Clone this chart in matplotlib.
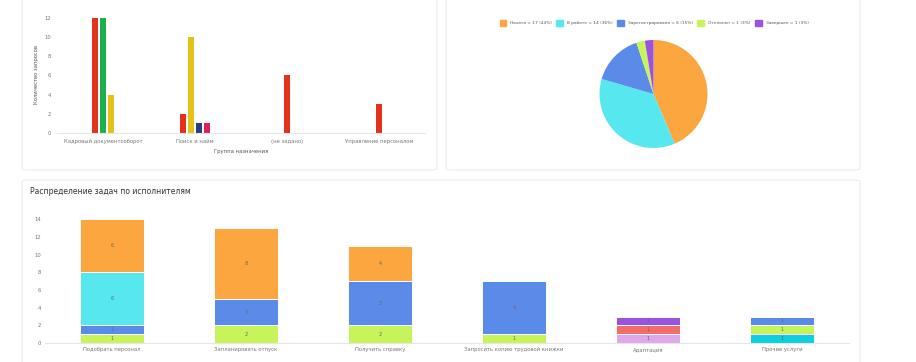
import numpy as np
import matplotlib.pyplot as plt
from matplotlib.patches import FancyBboxPatch

W, H = 916, 362  # pixel size of the picture

# top-left: requests by target group
groups = ['Кадровый документооборот', 'Поиск и найм', '(не задано)', 'Управление персоналом']
grp_series = {
    'red': [12, 2, 6, 3],
    'green': [12, 0, 0, 0],
    'yellow': [4, 10, 0, 0],
    'navy': [0, 1, 0, 0],
    'pink': [0, 1, 0, 0],
}
grp_colors = {'red': '#e2321c', 'green': '#1daf4d', 'yellow': '#e4c21a',
              'navy': '#2d3d7c', 'pink': '#e21f5d'}

# top-right: status pie
status_labels = ['Начата', 'В работе', 'Зарегистрирована', 'Отклонен', 'Завершен']
status_counts = [17, 14, 6, 1, 1]
status_colors = ['#fca63f', '#56e7ef', '#5b8be9', '#c7f45b', '#9b52df']

# bottom: tasks by executor (stacked)
tasks = ['Подобрать персонал', 'Запланировать отпуск', 'Получить справку',
         'Запросить копию трудовой книжки', 'Адаптация', 'Прочие услуги']
stack_teal = [0, 0, 0, 0, 0, 1]
stack_lime = [1, 2, 2, 1, 0, 1]
stack_blue = [1, 3, 5, 6, 0, 1]
stack_cyan = [6, 0, 0, 0, 0, 0]
stack_orange = [6, 8, 4, 0, 0, 0]
stack_lilac = [0, 0, 0, 0, 1, 0]
stack_salmon = [0, 0, 0, 0, 1, 0]
stack_purple = [0, 0, 0, 0, 1, 0]


def px(x0, y0, x1, y1):
    """pixel box (top-left origin) -> figure rect"""
    return [x0 / W, 1 - y1 / H, (x1 - x0) / W, (y1 - y0) / H]


fig = plt.figure(figsize=(W / 100, H / 100), dpi=100)
fig.patch.set_facecolor('white')

# cards (behind everything)
for (x0, y0, x1, y1) in [(22, -10, 437, 170), (446, -10, 860, 170), (22, 180, 860, 372)]:
    r = px(x0, y0, x1, y1)
    fig.patches.append(FancyBboxPatch((r[0], r[1]), r[2], r[3],
                                      boxstyle='round,pad=0,rounding_size=0.006',
                                      transform=fig.transFigure, facecolor='white',
                                      edgecolor='#ececec', linewidth=0.8, zorder=-5))

tick_col = '#777777'

# ---- grouped bars
ax1 = fig.add_axes(px(57, 15, 425, 133))
ax1.set_facecolor('none')
bw = 0.072
step = 0.087
for gi in range(len(groups)):
    items = [(k, v[gi]) for k, v in grp_series.items() if v[gi] > 0]
    n = len(items)
    for j, (k, val) in enumerate(items):
        xpos = gi + (j - (n - 1) / 2) * step
        ax1.bar(xpos, val, width=bw, color=grp_colors[k], linewidth=0)
ax1.set_xlim(-0.5, len(groups) - 0.5)
ax1.set_ylim(0, 12.3)
ax1.set_yticks(range(0, 13, 2))
ax1.set_xticks(range(len(groups)))
ax1.set_xticklabels(groups)
ax1.tick_params(length=0, labelsize=3.8, colors=tick_col, pad=4)
for s in ['top', 'right', 'left']:
    ax1.spines[s].set_visible(False)
ax1.spines['bottom'].set_color('#e6e6e6')
ax1.set_xlabel('Группа назначения', fontsize=3.8, color='#555555', labelpad=4)
ax1.set_ylabel('Количество запросов', fontsize=3.8, color='#555555', labelpad=4)

# ---- pie
ax2 = fig.add_axes(px(599, 40, 708, 148))
ax2.pie(status_counts, colors=status_colors, startangle=90, counterclock=False,
        wedgeprops=dict(linewidth=0))
ax2.set_xlim(-1, 1)
ax2.set_ylim(-1, 1)
ax2.set_aspect('equal')
total = sum(status_counts)
leg_labels = ['%s = %d (%d%%)' % (l, c, round(100 * c / total))
              for l, c in zip(status_labels, status_counts)]
handles = [plt.Rectangle((0, 0), 1, 1, color=c) for c in status_colors]
fig.legend(handles, leg_labels, loc='center', bbox_to_anchor=(654 / W, 1 - 23 / H),
           ncol=5, fontsize=3.1, frameon=False, handlelength=1.6, handleheight=1.6,
           columnspacing=1.0, handletextpad=0.9, labelcolor='#555555')

# ---- stacked bars
ax3 = fig.add_axes(px(45, 215, 849, 343))
ax3.set_facecolor('none')
x = np.arange(len(tasks))
bottom = np.zeros(len(tasks))
layers = [(stack_teal, '#0dcfdf'), (stack_lime, '#c7f45b'), (stack_blue, '#5b8be9'),
          (stack_cyan, '#56e7ef'), (stack_orange, '#fca63f'), (stack_lilac, '#dfa8ea'),
          (stack_salmon, '#f36c6c'), (stack_purple, '#9b52df')]
for vals, col in layers:
    vals = np.array(vals, dtype=float)
    ax3.bar(x, vals, width=0.48, bottom=bottom, color=col, edgecolor='white', linewidth=0.7)
    for i, v in enumerate(vals):
        if v > 0:
            ax3.text(x[i], bottom[i] + v / 2, '%d' % v, ha='center', va='center',
                     fontsize=3.5, color='#666666')
    bottom += vals
ax3.set_xlim(-0.5, len(tasks) - 0.5)
ax3.set_ylim(0, 14.5)
ax3.set_yticks(range(0, 15, 2))
ax3.set_xticks(x)
ax3.set_xticklabels(tasks)
ax3.tick_params(length=0, labelsize=3.8, colors=tick_col, pad=3)
for s in ['top', 'right', 'left']:
    ax3.spines[s].set_visible(False)
ax3.spines['bottom'].set_color('#e6e6e6')

fig.text(30 / W, 1 - 192 / H, 'Распределение задач по исполнителям', fontsize=5.5,
         color='#333333', va='center', ha='left', fontweight='medium')

fig.savefig('out.png', dpi=100)
